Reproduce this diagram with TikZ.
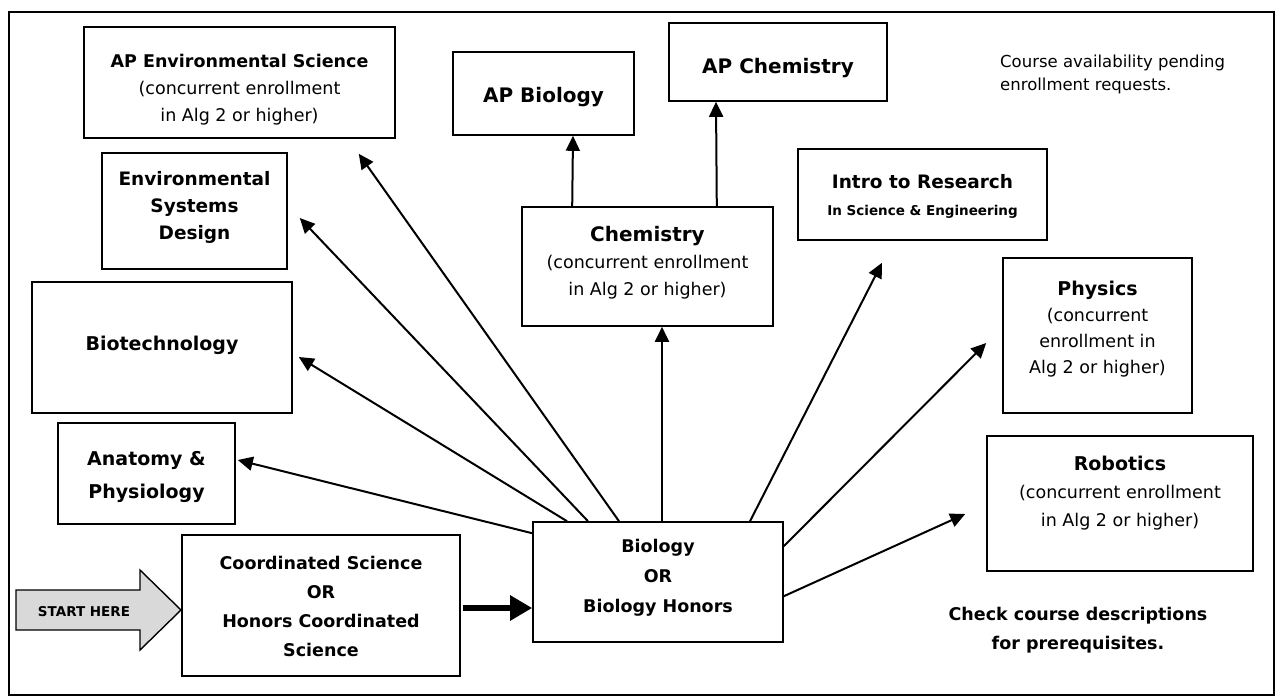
\documentclass[tikz,border=0pt]{standalone}
\usepackage{fontspec}
\setmainfont{DejaVu Sans}
\usetikzlibrary{arrows.meta}
\tikzset{
  box/.style={draw, line width=1.6pt, inner sep=0pt},
  arr/.style={line width=2pt, -{Triangle[length=15pt,width=14pt]}},
  thickarr/.style={line width=6.5pt, -{Triangle[length=22pt,width=24pt]}},
  txt/.style={align=center, inner sep=0pt},
  sub/.style={font=\fontsize{17.5}{27}\selectfont},
}
\newcommand{\ttl}[1]{{\fontsize{20}{27}\selectfont\bfseries #1}}
\begin{document}
\begin{tikzpicture}[x=1pt,y=-1pt]
\useasboundingbox (0,0) rectangle (1282,697);
% frame
\node[box, minimum width=1265pt, minimum height=683pt] (frame) at (641.5,353.5) {};

% boxes
\node[box, minimum width=311pt, minimum height=111pt] (apenv) at (239.5,82.5) {};
\node[box, minimum width=185pt, minimum height=116pt] (envsys) at (194.5,211) {};
\node[box, minimum width=260pt, minimum height=131pt] (biotech) at (162,347.5) {};
\node[box, minimum width=177pt, minimum height=101pt] (anat) at (146.5,473.5) {};
\node[box, minimum width=278pt, minimum height=141pt] (coord) at (321,605.5) {};
\node[box, minimum width=250pt, minimum height=120pt] (bio) at (658,582) {};
\node[box, minimum width=251pt, minimum height=119pt] (chem) at (647.5,266.5) {};
\node[box, minimum width=181pt, minimum height=83pt] (apbio) at (543.5,93.5) {};
\node[box, minimum width=218pt, minimum height=78pt] (apchem) at (778,62) {};
\node[box, minimum width=249pt, minimum height=91pt] (intro) at (922.5,194.5) {};
\node[box, minimum width=189pt, minimum height=155pt] (physics) at (1097.5,335.5) {};
\node[box, minimum width=266pt, minimum height=135pt] (robotics) at (1120,503.5) {};

% texts
\node[txt, font=\fontsize{17.5}{27}\selectfont] (tapenv) at (239.5,90)
  {{\bfseries AP Environmental Science}\\(concurrent enrollment\\in Alg 2 or higher)};
\node[txt, font=\fontsize{18.5}{27}\selectfont\bfseries] (tenvsys) at (194.5,207)
  {Environmental\\Systems\\Design};
\node[txt, font=\fontsize{19}{27}\selectfont\bfseries] (tbiotech) at (162,345) {Biotechnology};
\node[txt, font=\fontsize{19}{33}\selectfont\bfseries] (tanat) at (146.5,477) {Anatomy \&\\Physiology};
\node[txt, font=\fontsize{17.5}{29}\selectfont\bfseries] (tcoord) at (321,606)
  {Coordinated Science\\OR\\Honors Coordinated\\Science};
\node[txt, font=\fontsize{17.5}{30}\selectfont\bfseries] (tbio) at (658,578)
  {Biology\\OR\\Biology Honors};
\node[txt, sub] (tchem) at (647.5,263)
  {\ttl{Chemistry}\\(concurrent enrollment\\in Alg 2 or higher)};
\node[txt, font=\fontsize{20}{27}\selectfont\bfseries] (tapbio) at (543.5,97) {AP Biology};
\node[txt, font=\fontsize{20}{27}\selectfont\bfseries] (tapchem) at (778,68) {AP Chemistry};
\node[txt, font=\fontsize{18.5}{27}\selectfont\bfseries] (tintro) at (922.5,196.5)
  {Intro to Research\\{\fontsize{13.5}{27}\selectfont In Science \& Engineering}};
\node[txt, font=\fontsize{17.5}{26}\selectfont] (tphysics) at (1097.5,329)
  {{\fontsize{19}{26}\selectfont\bfseries Physics}\\(concurrent\\enrollment in\\Alg 2 or higher)};
\node[txt, font=\fontsize{17.5}{28}\selectfont] (trobotics) at (1120,493)
  {{\fontsize{19}{28}\selectfont\bfseries Robotics}\\(concurrent enrollment\\in Alg 2 or higher)};
\node[txt, align=left, anchor=west, font=\fontsize{16.5}{23}\selectfont] (tavail) at (1000,74.5)
  {Course availability pending\\enrollment requests.};
\node[txt, font=\fontsize{17.5}{29}\selectfont\bfseries] (tcheck) at (1078,630.5)
  {Check course descriptions\\for prerequisites.};

% start arrow
\draw[line width=1.4pt, fill=gray!30] (16,590) -- (140,590) -- (140,570) -- (181,610)
  -- (140,650) -- (140,630) -- (16,630) -- cycle;
\node[txt, font=\fontsize{13.5}{16}\selectfont\bfseries] (tstart) at (84,612) {START HERE};

% connectors
\draw[thickarr] ([xshift=2pt,yshift=-2.5pt]coord.east) -- ([yshift=-26pt]bio.west);
\draw[arr] ([yshift=-12pt]bio.north west) -- ([xshift=2pt,yshift=13.5pt]anat.east);
\draw[arr] ([xshift=-91pt]bio.north) -- ([xshift=6pt,yshift=-9.5pt]biotech.east);
\draw[arr] ([xshift=-70pt]bio.north) -- ([xshift=12pt,yshift=-7pt]envsys.east);
\draw[arr] ([xshift=-39pt]bio.north) -- ([xshift=-37pt,yshift=-15pt]apenv.south east);
\draw[arr] ([xshift=4pt]bio.north) -- ([xshift=14.5pt]chem.south);
\draw[arr] ([xshift=92pt]bio.north) -- ([xshift=-40.5pt,yshift=-22pt]intro.south);
\draw[arr] ([yshift=-25pt]bio.north east) -- ([xshift=-16pt,yshift=-7.5pt]physics.west);
\draw[arr] ([yshift=-75pt]bio.north east) -- ([xshift=-21pt,yshift=-10.5pt]robotics.west);
\draw[arr] ([xshift=51pt]chem.north west) -- ([xshift=29.5pt]apbio.south);
\draw[arr] ([xshift=-57pt]chem.north east) -- ([xshift=-62pt]apchem.south);
\end{tikzpicture}
\end{document}
